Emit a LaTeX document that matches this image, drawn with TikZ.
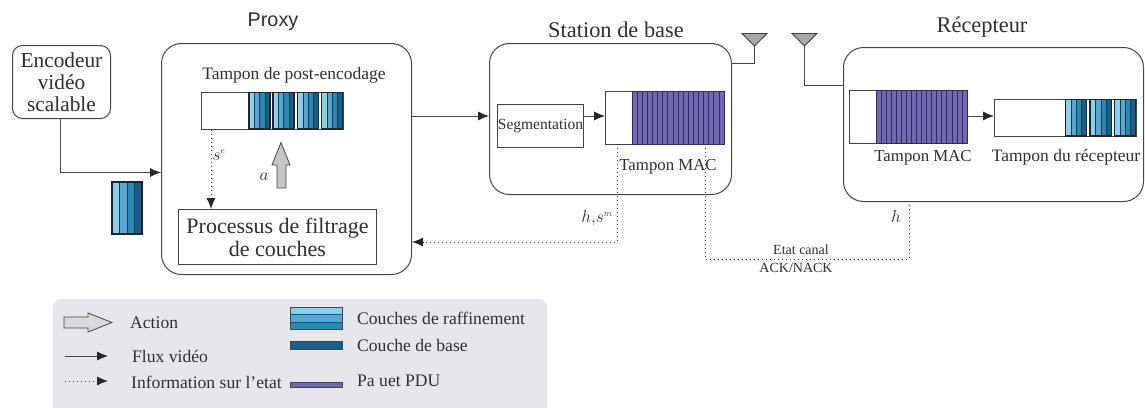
\documentclass[tikz,border=0pt]{standalone}
\usepackage{fontspec}
\setmainfont{Liberation Serif}
\newfontfamily\proxyfont{Liberation Sans}
\usetikzlibrary{arrows.meta,calc}
\definecolor{cA}{HTML}{82D2F5}
\definecolor{cB}{HTML}{4FA9D9}
\definecolor{cC}{HTML}{1F8CC0}
\definecolor{cD}{HTML}{175F90}
\definecolor{cP}{HTML}{6D68B2}
\definecolor{cL}{HTML}{E6E6EB}
\definecolor{cT}{HTML}{303030}
\definecolor{cE}{HTML}{454545}
\definecolor{cS}{HTML}{2C2C5E}
\definecolor{cH}{HTML}{262626}
\tikzset{
 x=1pt,y=-1pt,
 every node/.style={text=cT,inner sep=0pt},
 rbox/.style={draw=cE,line width=1pt,rounded corners=#1,fill=white},
 rbox/.default=16pt,
 sbox/.style={draw=cE,line width=1pt,fill=white},
 conn/.style={draw=cE,line width=.9pt,-{Latex[length=11pt,width=9pt,color=cH]}},
 wire/.style={draw=cE,line width=.9pt},
 dotconn/.style={draw=black!80,line width=.9pt,dash pattern=on 1pt off 3pt,-{Latex[length=11pt,width=9pt,color=cH]}},
 dotwire/.style={draw=black!80,line width=.9pt,dash pattern=on 1pt off 3pt},
 gray arrow/.style={draw=cE,line width=.8pt,fill=#1},
 antenna/.style={draw=cE,line width=.8pt,fill=gray!70},
 ttl/.style={font=\fontsize{22.4}{26}\selectfont},
 mid/.style={font=\fontsize{17.5}{20}\selectfont},
 mac/.style={font=\fontsize{16.8}{20}\selectfont},
 lab/.style={font=\fontsize{17.6}{20}\selectfont,anchor=west},
 tiny/.style={font=\fontsize{14}{16}\selectfont},
 mathl/.style={font=\fontsize{18}{20}\selectfont},
}
% layer block: x0 x1 y0 y1
\newcommand{\layerblock}[4]{%
 \pgfmathsetmacro{\stw}{(#2-#1)/4}
 \fill[cA] (#1,#3) rectangle ({#1+\stw},#4);
 \fill[cB] ({#1+\stw},#3) rectangle ({#1+2*\stw},#4);
 \fill[cC] ({#1+2*\stw},#3) rectangle ({#1+3*\stw},#4);
 \fill[cD] ({#1+3*\stw},#3) rectangle (#2,#4);
 \foreach \k in {1,2,3} \draw[cT,line width=.4pt] ({#1+\k*\stw},#3) -- ({#1+\k*\stw},#4);
 \draw[black!85,line width=1.4pt] (#1,#3) rectangle (#2,#4);
}
% pdu stripes: x0 x1 y0 y1 count
\newcommand{\pdustripes}[5]{%
 \fill[cP] (#1,#3) rectangle (#2,#4);
 \pgfmathsetmacro{\stw}{(#2-#1)/#5}
 \foreach \k in {0,...,#5} \draw[cS,line width=.6pt] ({#1+\k*\stw},#3) -- ({#1+\k*\stw},#4);
 \draw[cS,line width=.9pt] (#1,#3) -- (#2,#3) (#1,#4) -- (#2,#4);
}
\begin{document}
\begin{tikzpicture}
\useasboundingbox (0,0) rectangle (1145,407);
% legend background
\fill[cL,rounded corners=8pt] (53,299) -- (547,299) -- (547,420) -- (53,420) -- cycle;
% main boxes
\node[rbox=10pt,minimum width=98pt,minimum height=73pt,anchor=north west,align=center,font=\fontsize{21.3}{22}\selectfont] (enc) at (12,45) {Encodeur\\vidéo\\scalable};
\node[rbox=20pt,minimum width=250pt,minimum height=231pt,anchor=north west] (proxy) at (161,43) {};
\node[rbox=20pt,minimum width=242pt,minimum height=151pt,anchor=north west] (bs) at (489,43) {};
\node[rbox=20pt,minimum width=300pt,minimum height=154pt,anchor=north west] (rx) at (843,47) {};
\node[font=\proxyfont\fontsize{19.8}{22}\selectfont] (tproxy) at (273,22) {Proxy};
\node[ttl] (tbs) at (616,30) {Station de base};
\node[ttl] (trx) at (982,27) {Récepteur};
% proxy buffer
\node[mid] (tpost) at (294,75) {Tampon de post-encodage};
\node[sbox,minimum width=142pt,minimum height=37pt,anchor=north west] (bufP) at (201,92) {};
\layerblock{249}{270}{92.5}{129}
\layerblock{273}{294}{92.5}{129}
\layerblock{297.5}{318.5}{92.5}{129}
\layerblock{321.5}{342.5}{92.5}{129}
\layerblock{112}{142}{182}{234}
\node[sbox,minimum width=198pt,minimum height=55pt,anchor=north west,align=center,font=\fontsize{22}{23}\selectfont] (filt) at (178,209) {Processus de filtrage\\de couches};
\coordinate (encIn) at (60,172.5);
\draw[conn] (enc.south -| encIn) -- (encIn) -- (encIn -| proxy.west);
\coordinate (se0) at (211,129.5);
\draw[dotconn] (se0) -- (se0 |- filt.north);
\node[mathl] (se) at (219,155) {$s^{\scriptscriptstyle e}$};
\draw[gray arrow=gray!45] (277,188) -- (277,165) -- (272,165) -- (281,142.5) -- (290,165) -- (286,165) -- (286,188) -- cycle;
\node[mathl] (lba) at (264,177) {$a$};
% base station
\node[sbox,minimum width=86pt,minimum height=43pt,anchor=north west,font=\fontsize{15.5}{18}\selectfont] (seg) at (497,104) {Segmentation};
\node[sbox,minimum width=119pt,minimum height=53pt,anchor=north west] (macB) at (605,91) {};
\pdustripes{632}{724}{91}{144}{18}
\coordinate (a1) at (0,116);
\draw[conn] (a1 -| proxy.east) -- (a1 -| bs.west);
\draw[conn] (a1 -| seg.east) -- (a1 -| macB.west);
\node[mac] (tmacB) at (668,167) {Tampon MAC};
\coordinate (d1) at (617,144);
\coordinate (d1b) at (617,242);
\draw[dotconn] (d1) -- (d1b) -- (d1b -| proxy.east);
\node[mathl] (hs) at (597,218) {$h,\!s^{\scriptscriptstyle m}$};
% channel feedback
\coordinate (d2) at (705,144);
\coordinate (d2b) at (705,259);
\coordinate (d2c) at (909,259);
\draw[dotwire] (d2) -- (d2b) -- (d2c) -- (d2c |- rx.south);
\node[mathl] (lh) at (896,216) {$h$};
\node[tiny] (etat) at (801,249.5) {Etat canal};
\node[tiny] (ack) at (796,268) {ACK/NACK};
% antennas
\coordinate (an1) at (754.5,46);
\coordinate (an2) at (804.5,46);
\draw[antenna] (742,33.5) -- (767,33.5) -- (an1) -- cycle;
\draw[antenna] (792,33.5) -- (817,33.5) -- (an2) -- cycle;
\coordinate (s1) at (754.5,63);
\coordinate (s2) at (804.5,85);
\draw[wire] (an1) -- (s1) -- (s1 -| bs.east);
\draw[wire] (an2) -- (s2) -- (s2 -| rx.west);
% receiver
\node[sbox,minimum width=118pt,minimum height=53pt,anchor=north west] (macR) at (849,90) {};
\pdustripes{876}{967}{90}{143}{18}
\node[sbox,minimum width=142pt,minimum height=37pt,anchor=north west] (bufR) at (994,99) {};
\layerblock{1065.5}{1086.5}{99.5}{136}
\layerblock{1090}{1111.5}{99.5}{136}
\layerblock{1114.5}{1135.5}{99.5}{136}
\draw[conn] (a1 -| macR.east) -- (a1 -| bufR.west);
\node[mac] (tmacR) at (923,158) {Tampon MAC};
\node[mid] (tbufR) at (1066,157) {Tampon du récepteur};
% legend
\coordinate (l1) at (64,322);
\draw[gray arrow=gray!30] (l1) ++(0,-5) -- (88,317) -- (88,313) -- (112,322.5) -- (88,332) -- (88,328) -- (64,328) -- cycle;
\node[lab] (lAct) at (130,323) {Action};
\coordinate (l2a) at (65,356);
\coordinate (l2b) at (108,356);
\draw[conn,line width=.8pt] (l2a) -- (l2b);
\node[lab] (lFlux) at (132,356) {Flux vidéo};
\coordinate (l3a) at (65,381);
\coordinate (l3b) at (108,381);
\draw[dotconn,line width=.8pt] (l3a) -- (l3b);
\node[lab] (lInfo) at (131,382) {Information sur l’etat};
\fill[cA] (290,307) rectangle (342,314);
\fill[cB] (290,314) rectangle (342,322);
\fill[cC] (290,322) rectangle (342,329);
\draw[cE,line width=.9pt] (290,307) rectangle (342,329) (290,314.5) -- (342,314.5) (290,322) -- (342,322);
\draw[cE,line width=1pt,fill=cD] (290,341.5) rectangle (342,349);
\draw[cE,line width=1pt,fill=cP] (290,382) rectangle (342,387);
\node[lab] (lRaf) at (357,318) {Couches de raffinement};
\node[lab] (lBase) at (357,345) {Couche de base};
\node[lab] (lPdu) at (357,381) {Pa uet PDU};
\end{tikzpicture}
\end{document}
